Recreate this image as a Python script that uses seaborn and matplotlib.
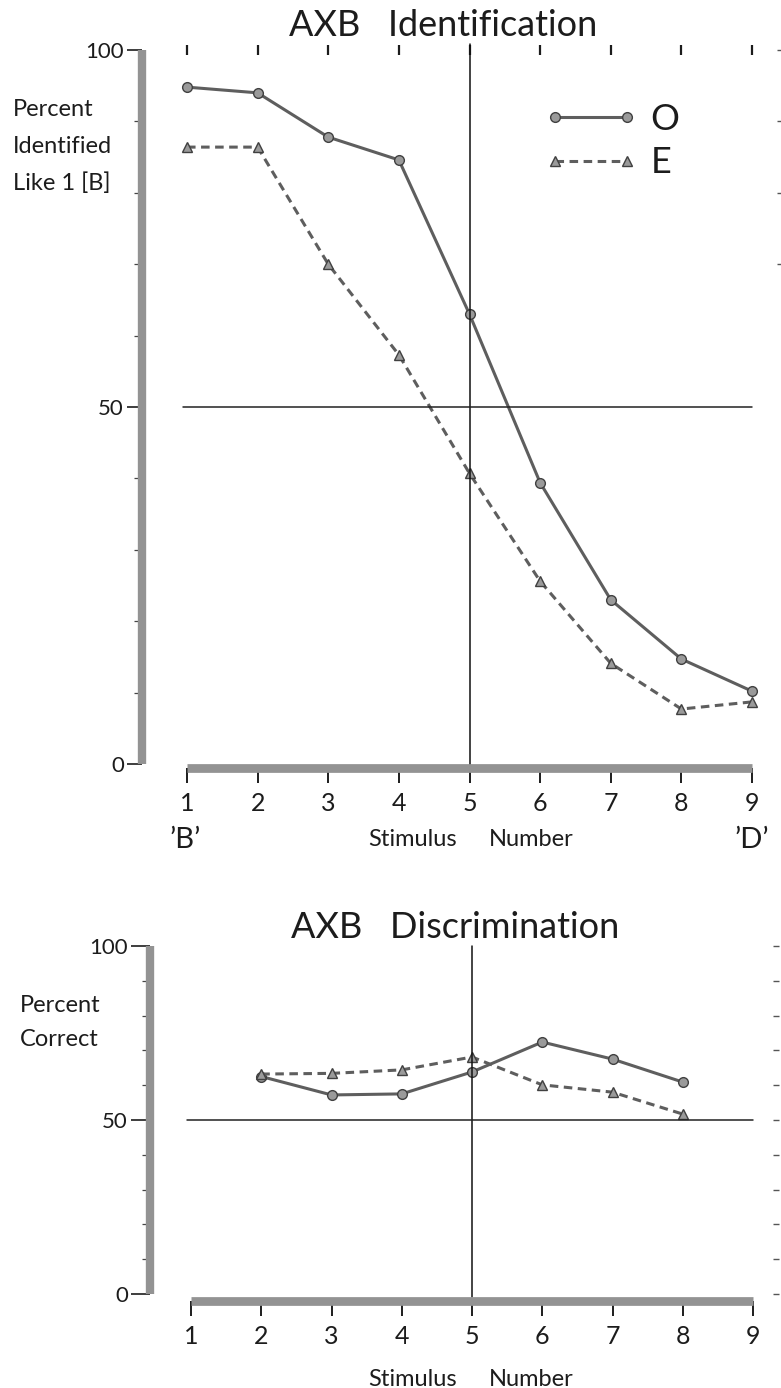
import numpy as np
import pandas as pd
import matplotlib
matplotlib.use("Agg")
import matplotlib.pyplot as plt
import seaborn as sns

# values
stim = [1, 2, 3, 4, 5, 6, 7, 8, 9]
ident_o = [94.8, 94.0, 87.8, 84.6, 63.0, 39.4, 23.0, 14.7, 10.2]
ident_e = [86.4, 86.4, 70.0, 57.3, 40.7, 25.6, 14.1, 7.7, 8.7]

disc_stim = [2, 3, 4, 5, 6, 7, 8]
disc_o = [62.5, 57.2, 57.5, 63.8, 72.4, 67.5, 60.9]
disc_e = [63.2, 63.4, 64.4, 68.1, 60.1, 58.0, 51.7]

groups = ["O", "E"]
x_ticklabels = ["1", "2", "3", "4", "5", "6", "7", "8", "9"]

sns.set_theme(style="white")
plt.rcParams["font.family"] = ["Lato", "DejaVu Sans"]

W, H = 781, 1388
fig = plt.figure(figsize=(W / 100, H / 100), dpi=100)
ink = "#1c1c1c"


def frac(x, y):
    return x / W, 1 - y / H


def make_axes(x0, x1, y0, y1):
    return fig.add_axes([x0 / W, 1 - y1 / H, (x1 - x0) / W, (y1 - y0) / H])


def long_df(x, o, e):
    return pd.DataFrame({"stim": list(x) * 2,
                         "pct": list(o) + list(e),
                         "group": ["O"] * len(o) + ["E"] * len(e)})


bar_col = "#939393"
line_col = "#5e5e5e"
mk = {"O": "o", "E": "^"}
dash = {"O": "", "E": (2.8, 1.8)}


def style_panel(ax, left_out, bot_out, ytick_len, right_loc, right_ticks, top_marks):
    ax.set_xlim(1, 9)
    ax.set_ylim(0, 100)
    for s in ["top", "right"]:
        ax.spines[s].set_visible(False)
    ax.spines["left"].set_position(("outward", left_out))
    ax.spines["bottom"].set_position(("outward", bot_out))
    ax.spines["left"].set_linewidth(6.0)
    ax.spines["bottom"].set_linewidth(6.3)
    for s in ["left", "bottom"]:
        ax.spines[s].set_color(bar_col)
        ax.spines[s].set_capstyle("butt")
    ax.set_xticks(stim)
    ax.set_xticklabels(x_ticklabels)
    ax.set_yticks([0, 50, 100])
    ax.set_yticks(np.arange(0, 101, 10), minor=True)
    ax.tick_params(axis="x", which="major", direction="out", length=10.5, width=1.4,
                   color=ink, pad=7, labelsize=18, labelcolor=ink, bottom=True)
    ax.tick_params(axis="y", which="major", direction="out", length=ytick_len, width=1.2,
                   color=ink, pad=2, labelsize=16, labelcolor=ink, left=True)
    ax.tick_params(axis="y", which="minor", direction="out", length=6, width=0.9,
                   color="#444444", left=True)
    ax.set_xlabel("")
    ax.set_ylabel("")
    ax.grid(False)
    if top_marks:
        top = ax.secondary_xaxis("top")
        top.set_xticks(stim)
        top.tick_params(direction="inout", length=7, width=1.6, color=ink, labeltop=False)
        top.spines["top"].set_visible(False)
    sec = ax.secondary_yaxis(right_loc)
    sec.set_yticks(right_ticks)
    sec.tick_params(direction="inout", length=4, width=1, color="#555555", labelright=False)
    sec.spines["right"].set_visible(False)
    ax.axvline(5, ymin=-0.01, ymax=1.008 if top_marks else 1.0, color="#111111", lw=1.1,
               clip_on=False)
    ax.axhline(50, xmin=-0.007, xmax=1.0, color="#222222", lw=1.1, clip_on=False)


def draw_lines(ax, df):
    sns.lineplot(data=df, x="stim", y="pct", style="group", style_order=groups,
                 markers=mk, dashes=dash, color=line_col, lw=2.2,
                 markersize=7, markerfacecolor="#9a9a9a", markeredgecolor="#404040",
                 markeredgewidth=1.0, ax=ax, legend=True, clip_on=False)


# ---------- top panel: identification ----------
ax1 = make_axes(187, 752, 50, 764)
draw_lines(ax1, long_df(stim, ident_o, ident_e))
handles, labels = ax1.get_legend_handles_labels()
ax1.legend(handles, labels, numpoints=2, handlelength=2.6, frameon=False,
           loc="center left", bbox_to_anchor=((526 - 187) / 565, (764 - 141) / 714),
           fontsize=26, labelspacing=0.3, handletextpad=0.35, borderpad=0,
           labelcolor=ink)
style_panel(ax1, 32.4, 3, 11, 1.05, [70, 80, 90, 100], True)

fig.text(*frac(443, 25), "AXB   Identification", ha="center", va="center", fontsize=26,
         color=ink)
for i, t in enumerate(["Percent", "Identified", "Like 1 [B]"]):
    fig.text(*frac(13, 110 + i * 36.5), t, ha="left", va="center", fontsize=17, color=ink)
fig.text(*frac(185, 840), "\u2019B\u2019", ha="center", va="center", fontsize=21, color=ink)
fig.text(*frac(752, 840), "\u2019D\u2019", ha="center", va="center", fontsize=21, color=ink)
fig.text(*frac(413, 840), "Stimulus", ha="center", va="center", fontsize=17, color=ink)
fig.text(*frac(531, 840), "Number", ha="center", va="center", fontsize=17, color=ink)

# ---------- bottom panel: discrimination ----------
ax2 = make_axes(191, 753, 946, 1294)
draw_lines(ax2, long_df(disc_stim, disc_o, disc_e))
ax2.get_legend().remove()
style_panel(ax2, 29.5, 5, 14, 1.041, list(range(0, 101, 10)), False)

fig.text(*frac(455, 928), "AXB   Discrimination", ha="center", va="center", fontsize=26,
         color=ink)
fig.text(*frac(20, 1005), "Percent", ha="left", va="center", fontsize=17, color=ink)
fig.text(*frac(20, 1040), "Correct", ha="left", va="center", fontsize=17, color=ink)
fig.text(*frac(413, 1380), "Stimulus", ha="center", va="center", fontsize=17, color=ink)
fig.text(*frac(531, 1380), "Number", ha="center", va="center", fontsize=17, color=ink)

fig.savefig("out.png", dpi=100, facecolor="white")
